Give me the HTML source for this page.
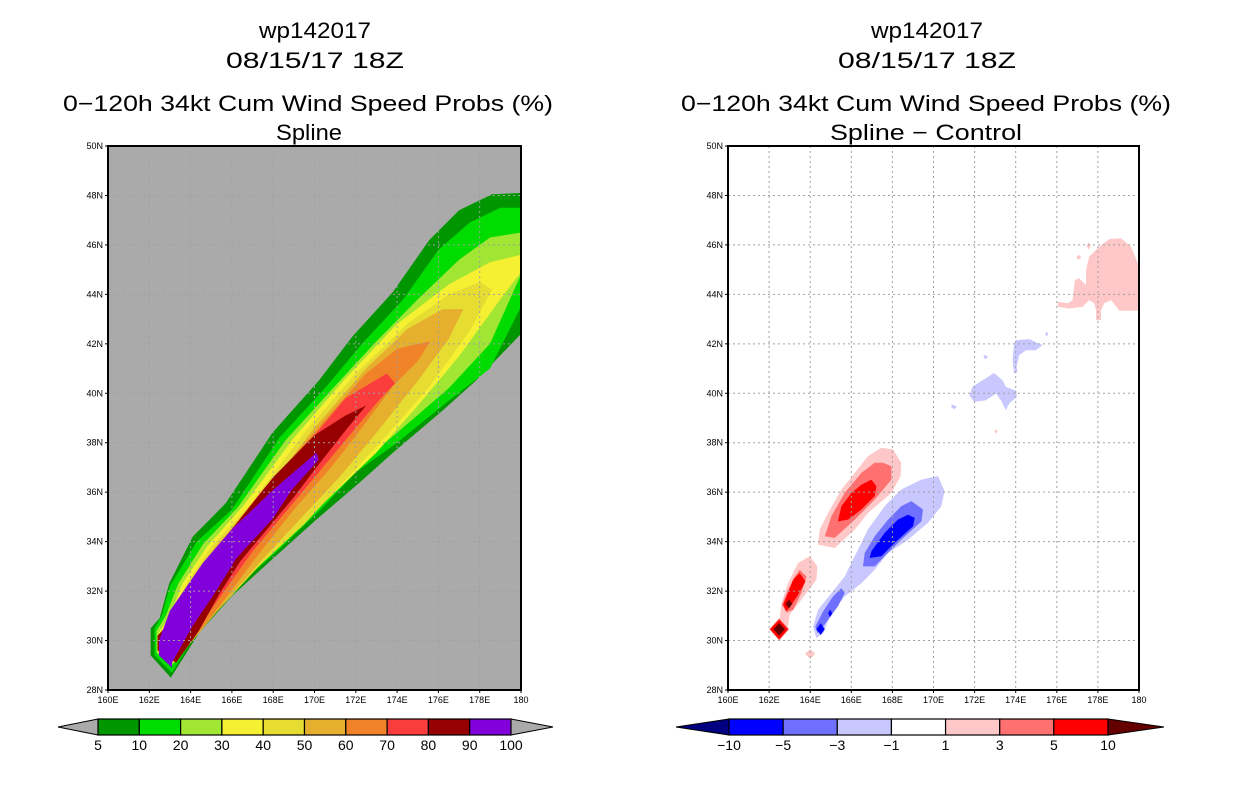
<!DOCTYPE html>
<html><head><meta charset="utf-8"><style>
html,body{margin:0;padding:0;background:#fff;}
svg{display:block;font-family:"Liberation Sans",sans-serif;}
</style></head><body>
<svg id="s" width="1236" height="800" viewBox="0 0 1236 800" xmlns="http://www.w3.org/2000/svg">
<g font-size="22" text-anchor="middle" fill="#000">
<text x="315" y="38" textLength="112" lengthAdjust="spacingAndGlyphs">wp142017</text>
<text x="315" y="68" textLength="178" lengthAdjust="spacingAndGlyphs">08/15/17 18Z</text>
<text x="308" y="111" textLength="490" lengthAdjust="spacingAndGlyphs">0−120h 34kt Cum Wind Speed Probs (%)</text>
<text x="309" y="140" textLength="66" lengthAdjust="spacingAndGlyphs">Spline</text>
</g>
<g font-size="22" text-anchor="middle" fill="#000">
<text x="927" y="38" textLength="112" lengthAdjust="spacingAndGlyphs">wp142017</text>
<text x="927" y="68" textLength="178" lengthAdjust="spacingAndGlyphs">08/15/17 18Z</text>
<text x="926" y="111" textLength="490" lengthAdjust="spacingAndGlyphs">0−120h 34kt Cum Wind Speed Probs (%)</text>
<text x="926" y="140" textLength="192" lengthAdjust="spacingAndGlyphs">Spline − Control</text>
</g>
</svg>
<script>
// ---- data ----
const lonTicks=[160,162,164,166,168,170,172,174,176,178,180];
const lonTickLabels=["160E","162E","164E","166E","168E","170E","172E","174E","176E","178E","180"];
const latTicks=[28,30,32,34,36,38,40,42,44,46,48,50];
const latTickLabels=["28N","30N","32N","34N","36N","38N","40N","42N","44N","46N","48N","50N"];
const probLevels=[5,10,20,30,40,50,60,70,80,90,100];
const probColors=["#009600","#00dc00","#a0e632","#f5f032","#e6dc32","#e6af2d","#f08228","#fa3c3c","#960000","#8200dc"];
const diffLevels=[-10,-5,-3,-1,1,3,5,10];
const diffColors=["#0000ff","#7070ff","#c8c8ff","#ffffff","#ffc8c8","#ff7070","#ff0000"];
// left panel contour polygons (lon,lat), by lower level
const probPolys=[
 {lev:5,pts:[[163.04,28.5],[162.07,29.4],[162.07,30.5],[162.5,30.9],[162.96,32.3],[164.1,34.2],[165.7,35.55],[167.96,38.4],[170.2,40.5],[171.84,42.3],[173.8,44.1],[175.56,46.2],[177,47.4],[178.6,48.05],[180,48.1],[180,42.4],[177.8,40.5],[176.2,39.3],[173.8,37.6],[172.2,36.4],[170.1,34.9],[168.1,33.4],[166,31.8],[164.4,30.3]]},
 {lev:10,pts:[[163.1,28.7],[162.25,29.4],[162.25,30.5],[162.6,31],[163,32.2],[164.3,34],[166,35.3],[168.3,38.2],[170.5,40.2],[172.3,42],[174.3,43.8],[176,45.8],[177.5,46.9],[179,47.5],[180,47.5],[180,43.5],[178.5,41],[176.5,39.7],[174,38],[172,36.8],[170.3,35.3],[168.3,33.7],[166,32],[164.2,30.2]]},
 {lev:20,pts:[[163.1,29],[162.35,29.5],[162.35,30.4],[162.8,31],[163.4,32.3],[164.6,33.9],[166.3,35.4],[168.6,38.1],[171,40.3],[173,42.1],[175,43.8],[177,45.4],[178.5,46.3],[180,46.5],[180,44.8],[178.5,42],[176.5,40.2],[174,38.4],[172,37],[170.3,35.6],[168.4,34],[166,32.3],[164.3,30.4]]},
 {lev:30,pts:[[163.2,29.1],[162.45,29.5],[162.45,30.3],[163,31],[163.6,32.3],[164.8,33.8],[166.6,35.5],[169,38.2],[171.5,40.6],[174,42.8],[176.5,44.4],[178.5,45.3],[180,45.6],[180,44.9],[179,43.8],[177,41.5],[175,39.5],[173,37.6],[171,36],[169,34.4],[167,32.8],[165,31]]},
 {lev:40,pts:[[163.3,29.2],[162.5,29.6],[163.1,31.1],[163.8,32.3],[165,33.8],[167,35.6],[169.5,38.4],[172,40.8],[174.5,42.8],[176.5,44],[178,44.5],[178.6,44.2],[177.5,42.5],[175.5,40.2],[173.5,38.3],[171.5,36.5],[169.5,34.7],[167.3,33],[165.2,31.1]]},
 {lev:50,pts:[[163.4,29.3],[162.55,29.6],[163.2,31.1],[164,32.4],[165.3,33.9],[167.5,35.9],[170,38.6],[172.5,41],[174.5,42.6],[176.2,43.4],[177.2,43.4],[176.5,42.2],[175,40.5],[173,38.4],[171.2,36.6],[169.4,35],[167.4,33.2],[165.3,31.2]]},
 {lev:60,pts:[[163.5,29.4],[162.6,29.6],[163.3,31.1],[164.2,32.5],[165.5,34],[167.6,36.1],[170.5,38.9],[172.5,40.8],[174,41.8],[175.6,42.1],[175,41.3],[173.8,40.3],[172.2,38.5],[170.8,37],[169,35.3],[167.3,33.5],[165.5,31.5]]},
 {lev:70,pts:[[163.5,29.4],[162.65,29.6],[163.4,31.1],[164.3,32.6],[165.6,34.1],[167.6,36.2],[169.5,37.8],[171.5,39.8],[173.5,40.8],[173.9,40.4],[173,39.6],[172,38.6],[170.5,37.1],[168.8,35.4],[167,33.6],[165.2,31.5]]},
 {lev:80,pts:[[163.3,29.1],[162.4,29.6],[162.4,30.2],[163.5,31.2],[164.5,32.7],[166,34.5],[168,36.6],[170,38.3],[171.5,39.1],[172.5,39.5],[171.5,38.5],[170,36.9],[169,35.8],[167.8,34.6],[166.4,33.2],[165.4,31.9],[164.4,30.4]]},
 {lev:90,pts:[[163.1,28.9],[162.47,29.4],[162.47,30.0],[163,31.2],[164.6,33.15],[166,34.5],[168,36.1],[170.1,37.6],[170.2,37.3],[168.9,36.1],[168,34.95],[166.2,33.3],[165.2,31.95],[164.1,30.6],[163.1,29.1]]}
];
// right panel difference polygons (lon,lat)
const diffPolys=[
 {lev:1,pts:[[167.46,37.8],[168.03,37.73],[168.43,37.19],[168.4,36.65],[167.95,35.97],[166.81,35.16],[166.17,34.49],[165.19,33.74],[164.38,33.88],[164.46,34.49],[164.87,35.16],[165.52,36.11],[166.17,36.78],[166.81,37.46]]},
 {lev:3,pts:[[167.54,37.19],[167.95,37.05],[167.95,36.51],[167.14,35.7],[166.17,34.89],[165.19,34.15],[164.71,34.22],[165.03,35.03],[165.68,35.97],[166.49,36.78],[167.14,37.19]]},
 {lev:5,pts:[[166.98,36.51],[167.22,36.24],[167.14,35.84],[166.49,35.3],[165.84,34.89],[165.35,34.82],[165.52,35.43],[166.01,35.97],[166.49,36.3]]},
 {lev:1,pts:[[163.98,33.41],[164.35,33.0],[164.3,32.46],[163.57,31.65],[163.0,31.04],[162.89,30.43],[162.52,30.03],[162.08,30.46],[162.52,30.91],[162.6,31.51],[162.92,32.32],[163.41,33.14]]},
 {lev:3,pts:[[163.49,32.86],[163.82,32.59],[163.57,31.92],[163.17,31.24],[162.84,31.14],[162.63,31.45],[162.92,32.05],[163.25,32.59]]},
 {lev:5,pts:[[163.49,32.73],[163.77,32.39],[163.41,31.85],[163.09,31.45],[162.84,31.18],[162.68,31.45],[162.92,31.92],[163.17,32.46]]},
 {lev:10,pts:[[162.97,31.65],[163.13,31.49],[162.97,31.31],[162.81,31.49]]},
 {lev:3,pts:[[162.49,30.9],[162.97,30.46],[162.49,30.0],[162.01,30.46]]},
 {lev:5,pts:[[162.49,30.84],[162.92,30.46],[162.49,30.05],[162.05,30.46]]},
 {lev:10,pts:[[162.49,30.7],[162.77,30.46],[162.49,30.21],[162.21,30.46]]},
 {lev:1,pts:[[164.0,29.66],[164.25,29.46],[164.0,29.26],[163.75,29.46]]},
 {lev:-1,pts:[[170.22,36.65],[170.54,36.04],[170.38,35.43],[169.73,34.76],[168.76,34.08],[167.79,33.54],[167.14,32.86],[166.49,32.32],[165.68,31.78],[165.03,31.11],[164.63,30.3],[164.3,30.09],[164.14,30.57],[164.38,31.24],[165.03,31.92],[165.68,32.59],[166.0,33.14],[166.33,33.68],[166.81,34.49],[167.62,35.43],[168.43,36.11],[169.41,36.51]]},
 {lev:-3,pts:[[168.92,35.64],[169.49,35.3],[169.41,34.82],[168.43,34.08],[167.62,33.41],[167.14,33.0],[166.57,33.0],[166.65,33.54],[167.14,34.22],[167.79,34.89],[168.43,35.43]]},
 {lev:-5,pts:[[168.76,35.09],[169.09,34.96],[169.0,34.62],[168.11,33.95],[167.46,33.41],[166.89,33.34],[166.98,33.61],[167.62,34.35],[168.27,34.89]]},
 {lev:-3,pts:[[165.52,32.12],[165.68,31.92],[165.35,31.38],[164.87,30.84],[164.63,30.57],[164.35,30.3],[164.25,30.57],[164.63,31.18],[165.11,31.78]]},
 {lev:-5,pts:[[164.51,30.7],[164.71,30.46],[164.51,30.23],[164.3,30.46]]},
 {lev:-5,pts:[[164.97,31.25],[165.07,31.1],[164.97,30.95],[164.87,31.1]]},
 {lev:1,pts:[[178.56,46.24],[179.12,46.27],[179.61,45.93],[179.94,45.26],[179.97,43.77],[179.94,43.34],[179.04,43.34],[178.64,43.77],[178.31,43.64],[178.15,43.36],[178.15,42.96],[177.91,42.96],[177.91,43.36],[177.82,43.64],[177.58,43.77],[177.26,43.5],[176.61,43.43],[176.04,43.5],[176.04,43.7],[176.53,43.64],[176.77,43.77],[176.88,44.58],[177.09,44.65],[177.42,44.38],[177.42,44.99],[177.58,45.53],[178.07,45.93]]},
 {lev:1,pts:[[177.55,46.1],[177.65,45.96],[177.55,45.82],[177.45,45.96]]},
 {lev:1,pts:[[177.06,45.6],[177.2,45.5],[177.06,45.4],[176.95,45.5]]},
 {lev:1,pts:[[173.04,38.55],[173.12,38.46],[173.04,38.37],[172.96,38.46]]},
 {lev:-1,pts:[[174.01,42.15],[174.66,42.19],[175.31,41.95],[174.98,41.74],[174.5,41.74],[174.17,41.54],[174.04,41.07],[174.09,40.86],[173.92,40.8],[173.85,41.34],[173.92,42.01]]},
 {lev:-1,pts:[[172.95,40.82],[173.36,40.53],[173.52,40.26],[174.04,40.09],[174.04,39.85],[173.68,39.58],[173.52,39.31],[173.28,39.72],[173.04,39.99],[172.55,39.72],[171.98,39.65],[171.74,39.92],[171.9,40.26],[172.39,40.53]]},
 {lev:-1,pts:[[172.45,41.55],[172.65,41.5],[172.55,41.38],[172.45,41.42]]},
 {lev:-1,pts:[[170.9,39.55],[171.15,39.45],[171.0,39.35],[170.85,39.45]]},
 {lev:-1,pts:[[175.5,42.5],[175.58,42.4],[175.5,42.28],[175.44,42.4]]}
];
// ---- drawing ----
const NS="http://www.w3.org/2000/svg";
const svg=document.getElementById('s');
function mk(tag,attrs,parent){const e=document.createElementNS(NS,tag);for(const k in attrs)e.setAttribute(k,attrs[k]);(parent||svg).appendChild(e);return e;}
const panels=[{x0:108,x1:521,y0:146,y1:690,bg:"#aaaaaa",name:"left"},{x0:728,x1:1139,y0:146,y1:690,bg:"#ffffff",name:"right"}];
function xs(p,lon){return p.x0+(lon-160)/20*(p.x1-p.x0);}
function ys(p,lat){return p.y1-(lat-28)/22*(p.y1-p.y0);}
function probColor(lev){const i=probLevels.indexOf(lev);return probColors[Math.min(i,probColors.length-1)];}
function diffColor(lev){const i=diffLevels.indexOf(lev);
  if(lev>=diffLevels[diffLevels.length-1])return "#640000";
  if(lev<=diffLevels[0])return "#000080";
  return lev>0?diffColors[i]:diffColors[i-1];}
panels.forEach((p,pi)=>{
  const g=mk('g',{});
  
  
  const cp=mk('clipPath',{id:'cp'+pi},g);
  mk('rect',{x:p.x0,y:p.y0,width:p.x1-p.x0,height:p.y1-p.y0},cp);
  const bg=mk('rect',{x:p.x0,y:p.y0,width:p.x1-p.x0,height:p.y1-p.y0,fill:p.bg},g);
  
  
  const fills=mk('g',{'clip-path':'url(#cp'+pi+')'},g);
  const polys=pi===0?probPolys:diffPolys;
  polys.forEach(pl=>{
    const c=pi===0?probColor(pl.lev):diffColor(pl.lev);
    const d=pl.pts.map(q=>xs(p,q[0]).toFixed(1)+','+ys(p,q[1]).toFixed(1)).join(' ');
    const e=mk('polygon',{points:d,fill:c},fills);
    
    
  });
  const grid=mk('g',{stroke:'#a0a0a0','stroke-width':1,'stroke-dasharray':'2,3'},g);
  
  
  lonTicks.slice(1,-1).forEach(l=>mk('line',{x1:xs(p,l),x2:xs(p,l),y1:p.y0,y2:p.y1},grid));
  latTicks.slice(1,-1).forEach(l=>mk('line',{x1:p.x0,x2:p.x1,y1:ys(p,l),y2:ys(p,l)},grid));
  const fr=mk('rect',{x:p.x0,y:p.y0,width:p.x1-p.x0,height:p.y1-p.y0,fill:'none',stroke:'#000','stroke-width':2},g);
  
  
  const xl=mk('g',{'font-size':9,'text-anchor':'middle'},g);
  
  
  lonTicks.forEach((l,i)=>{mk('line',{x1:xs(p,l),x2:xs(p,l),y1:p.y1,y2:p.y1+3,stroke:'#000'},xl);const t=mk('text',{x:xs(p,l),y:p.y1+13},xl);t.textContent=lonTickLabels[i];});
  const yl=mk('g',{'font-size':9,'text-anchor':'end'},g);
  
  
  latTicks.forEach((l,i)=>{mk('line',{x1:p.x0-3,x2:p.x0,y1:ys(p,l),y2:ys(p,l),stroke:'#000'},yl);const t=mk('text',{x:p.x0-5,y:ys(p,l)+3},yl);t.textContent=latTickLabels[i];});
});
// colorbars
function colorbar(x0,x1,tipL,tipR,colors,labels,lowC,highC,name){
  const g=mk('g',{});
  
  
  const y0=719,y1=735,ym=727;
  mk('polygon',{points:`${x0},${y0} ${tipL},${ym} ${x0},${y1}`,fill:lowC,stroke:'#000','stroke-width':1},g);
  mk('polygon',{points:`${x1},${y0} ${tipR},${ym} ${x1},${y1}`,fill:highC,stroke:'#000','stroke-width':1},g);
  const w=(x1-x0)/colors.length;
  colors.forEach((c,i)=>{const r=mk('rect',{x:x0+i*w,y:y0,width:w,height:y1-y0,fill:c,stroke:'#000','stroke-width':1.2},g);
    
    });
  labels.forEach((l,i)=>{const t=mk('text',{x:x0+i*w,y:750,'font-size':14,'text-anchor':'middle'},g);t.textContent=String(l).replace('-','−');});
}
colorbar(98,511,58,553,probColors,probLevels,'#aaaaaa','#aaaaaa','prob-colorbar');
colorbar(729,1108,676,1164,diffColors,[],'#000080','#640000','diff-colorbar');
(function(){const w=(1108-729)/7;const g=mk('g',{'font-size':14,'text-anchor':'middle'});


diffLevels.forEach((l,i)=>{const t=mk('text',{x:729+i*w,y:750},g);t.textContent=String(l).replace('-','−');});})();
</script>
</body></html>
